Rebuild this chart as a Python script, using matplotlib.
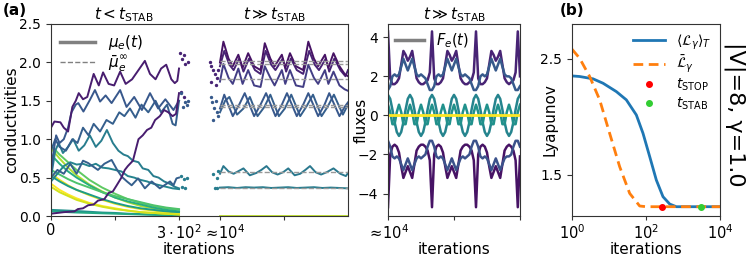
import matplotlib
matplotlib.use('Agg')
import matplotlib.pyplot as plt
from matplotlib.lines import Line2D
from matplotlib.transforms import ScaledTranslation

# ---------------- panel (a) left part: t < t_STAB (iterations 0..300) ----------------
p1_iter = [0, 8, 22, 30, 40, 50, 58, 65, 75, 85, 100, 112, 122, 135, 148, 162, 175, 190, 205, 220, 232, 245, 258, 270, 282, 290, 296, 300]
p1_cond = [1.15, 1.23, 1.22, 1.15, 1.1, 1.42, 1.5, 1.6, 1.52, 1.55, 1.85, 1.7, 1.87, 1.72, 1.7, 1.88, 1.72, 1.78, 1.9, 2.02, 1.85, 1.78, 1.92, 1.97, 1.78, 1.73, 1.76, 1.92]

p2_iter = [0, 30, 55, 63, 75, 87, 100, 110, 125, 135, 145, 154, 165, 173, 180, 192, 198, 205, 215, 225, 235, 244, 255, 265, 275, 285, 293, 300]
p2_cond = [0.03, 0.05, 0.06, 0.09, 0.1, 0.14, 0.15, 0.2, 0.22, 0.3, 0.32, 0.4, 0.5, 0.6, 0.65, 0.72, 0.85, 1.0, 1.05, 1.12, 1.15, 1.25, 1.3, 1.38, 1.35, 1.3, 1.33, 1.6]

b1_iter = [0, 5, 12, 20, 30, 40, 48, 58, 64, 76, 91, 103, 115, 128, 142, 162, 177, 195, 213, 232, 251, 268, 287, 300]
b1_cond = [0.55, 0.8, 1.05, 0.95, 1.0, 1.15, 1.35, 1.45, 1.47, 1.36, 1.51, 1.64, 1.49, 1.57, 1.47, 1.64, 1.42, 1.55, 1.38, 1.6, 1.4, 1.52, 1.38, 1.5]

b2_iter = [0, 10, 20, 35, 50, 62, 75, 88, 100, 115, 130, 145, 160, 172, 185, 198, 212, 228, 245, 258, 272, 285, 292, 300]
b2_cond = [0.85, 1.0, 0.9, 0.85, 1.0, 0.95, 1.15, 1.05, 1.2, 1.1, 1.25, 1.2, 1.35, 1.3, 1.4, 1.28, 1.45, 1.35, 1.5, 1.35, 1.45, 1.2, 1.18, 1.5]

b3_iter = [0, 15, 30, 45, 60, 75, 87, 110, 125, 142, 155, 166, 178, 189, 204, 220, 236, 255, 279, 287, 294, 300]
b3_cond = [0.5, 0.6, 0.55, 0.68, 0.55, 0.72, 0.69, 0.6, 0.68, 0.73, 0.6, 0.51, 0.45, 0.4, 0.49, 0.36, 0.45, 0.36, 0.45, 0.4, 0.49, 0.5]

t1_iter = [0, 10, 18, 28, 40, 52, 65, 78, 91, 105, 118, 131, 145, 158, 170, 180, 192, 205, 215, 228, 240, 252, 265, 278, 290, 300]
t1_cond = [0.5, 0.85, 0.95, 0.82, 0.9, 1.0, 0.85, 0.92, 1.05, 0.9, 0.98, 1.12, 0.95, 0.85, 0.8, 0.78, 0.72, 0.7, 0.62, 0.6, 0.52, 0.5, 0.45, 0.42, 0.38, 0.36]

t2_iter = [0, 15, 30, 45, 60, 75, 90, 105, 120, 135, 150, 165, 180, 195, 210, 225, 240, 255, 270, 285, 300]
t2_cond = [0.45, 0.55, 0.65, 0.7, 0.67, 0.68, 0.65, 0.68, 0.63, 0.62, 0.6, 0.58, 0.52, 0.5, 0.47, 0.45, 0.42, 0.4, 0.38, 0.36, 0.35]

# decaying edges (all sampled at the same iterations)
decay_iter = [0, 20, 40, 60, 90, 120, 150, 180, 210, 240, 270, 300]
d1_cond = [0.92, 0.8, 0.7, 0.6, 0.47, 0.37, 0.29, 0.22, 0.17, 0.13, 0.1, 0.08]
d2_cond = [0.88, 0.75, 0.63, 0.53, 0.41, 0.32, 0.24, 0.18, 0.13, 0.1, 0.07, 0.05]
d3_cond = [0.8, 0.68, 0.58, 0.5, 0.4, 0.31, 0.24, 0.19, 0.15, 0.11, 0.08, 0.06]
d4_cond = [0.6, 0.54, 0.48, 0.43, 0.37, 0.31, 0.26, 0.22, 0.18, 0.14, 0.11, 0.09]
d5_cond = [0.55, 0.47, 0.4, 0.34, 0.27, 0.21, 0.16, 0.12, 0.09, 0.07, 0.05, 0.04]
d6_cond = [0.52, 0.45, 0.39, 0.34, 0.28, 0.22, 0.17, 0.13, 0.1, 0.08, 0.06, 0.05]
d7_cond = [0.42, 0.34, 0.28, 0.23, 0.17, 0.13, 0.1, 0.07, 0.05, 0.04, 0.03, 0.02]
d8_cond = [0.38, 0.31, 0.26, 0.21, 0.16, 0.12, 0.09, 0.07, 0.05, 0.04, 0.03, 0.02]
d9_cond = [0.08, 0.075, 0.07, 0.065, 0.055, 0.045, 0.04, 0.03, 0.025, 0.02, 0.015, 0.01]
d10_cond = [0.06, 0.055, 0.05, 0.045, 0.04, 0.035, 0.03, 0.025, 0.02, 0.015, 0.01, 0.01]

# ---------------- panel (a) right part: t >> t_STAB (iterations after ~10^4) ----------------
r1_iter = [0, 8, 20, 30, 43, 53, 66, 80, 95, 105, 118, 128, 145, 153, 164, 178, 195, 207, 220, 230, 246, 254, 266, 280, 292, 300]
r1_cond = [2.0, 2.27, 2.05, 1.95, 2.1, 1.93, 2.12, 1.95, 1.9, 2.25, 2.05, 1.95, 2.1, 1.93, 2.12, 1.95, 1.9, 2.27, 2.05, 1.95, 2.1, 1.93, 2.12, 1.95, 1.85, 1.82]
r2_iter = [0, 10, 22, 32, 45, 55, 68, 82, 95, 107, 120, 130, 147, 155, 166, 180, 195, 209, 222, 232, 248, 256, 268, 282, 294, 300]
r2_cond = [1.95, 2.15, 1.97, 1.9, 2.05, 1.88, 2.05, 1.9, 1.85, 2.15, 1.97, 1.9, 2.05, 1.88, 2.05, 1.9, 1.85, 2.15, 1.97, 1.9, 2.05, 1.88, 2.05, 1.9, 1.82, 1.9]
r3_cond = [1.75, 1.98, 1.8, 1.72, 1.92, 1.72, 1.9, 1.7, 1.68, 1.95, 1.8, 1.7, 1.9, 1.72, 1.9, 1.7, 1.68, 1.97, 1.8, 1.72, 1.9, 1.72, 1.88, 1.7, 1.65, 1.63]
r4_iter = [0, 10, 30, 45, 58, 80, 95, 108, 130, 145, 157, 180, 195, 207, 230, 245, 256, 280, 292, 300]
r4_cond = [1.4, 1.58, 1.3, 1.45, 1.6, 1.3, 1.45, 1.6, 1.3, 1.45, 1.6, 1.3, 1.45, 1.6, 1.3, 1.45, 1.6, 1.3, 1.42, 1.48]
r5_iter = [0, 12, 22, 40, 55, 70, 88, 104, 118, 138, 152, 167, 188, 202, 218, 238, 252, 267, 288, 300]
r5_cond = [1.35, 1.5, 1.55, 1.32, 1.4, 1.55, 1.3, 1.42, 1.58, 1.3, 1.4, 1.58, 1.3, 1.42, 1.58, 1.3, 1.42, 1.58, 1.32, 1.45]
r6_iter = [0, 8, 20, 32, 42, 55, 70, 85, 97, 109, 122, 135, 148, 160, 175, 188, 200, 211, 224, 237, 250, 266, 282, 295, 300]
r6_cond = [0.55, 0.65, 0.58, 0.55, 0.58, 0.62, 0.53, 0.56, 0.6, 0.65, 0.57, 0.54, 0.57, 0.62, 0.53, 0.55, 0.6, 0.65, 0.57, 0.54, 0.57, 0.62, 0.55, 0.52, 0.56]
r7_iter = [0, 20, 40, 60, 80, 100, 120, 140, 160, 180, 200, 220, 240, 260, 280, 300]
r7_cond = [0.37, 0.375, 0.365, 0.375, 0.37, 0.375, 0.365, 0.37, 0.375, 0.365, 0.37, 0.375, 0.365, 0.37, 0.365, 0.36]
zero_iter = [0, 300]
zero_cond = [0.0, 0.0]

# time-averaged conductivities (dashed)
mean_cond = [2.02, 1.98, 1.79, 1.45, 1.42, 0.57, 0.37]

# sparse samples drawn in the gap between the two parts
gap_purple_iter = [303, 307, 311, 315, 320, 305, 312, 372, 375, 380, 384, 388, 392, 376, 386]
gap_purple_cond = [2.12, 2.05, 2.1, 1.98, 2.0, 1.62, 1.55, 2.0, 1.95, 1.9, 1.85, 1.8, 1.9, 1.75, 1.7]
gap_blue_iter = [304, 309, 314, 318, 322, 374, 378, 383, 388, 392, 380, 386]
gap_blue_cond = [1.6, 1.42, 1.48, 1.45, 1.5, 1.55, 1.48, 1.4, 1.35, 1.3, 1.25, 1.5]
gap_teal_iter = [305, 312, 318, 306, 314, 380, 388, 392, 384, 390]
gap_teal_cond = [0.52, 0.48, 0.5, 0.38, 0.36, 0.55, 0.5, 0.58, 0.37, 0.37]

# ---------------- fluxes (t >> t_STAB) ----------------
flux_iter = list(range(0, 301, 5))
f_dp_up = [4.3, 1.9, 1.6, 1.6, 1.7, 1.9, 2.6, 3.3, 3.1, 2.8, 3.0, 3.3, 2.6, 1.9, 1.7, 1.6, 1.6, 1.7, 1.8, 2.2,
           4.3, 1.9, 1.6, 1.6, 1.7, 1.9, 2.6, 3.3, 3.1, 2.8, 3.0, 3.3, 2.6, 1.9, 1.7, 1.6, 1.6, 1.7, 1.8, 2.2,
           4.3, 1.9, 1.6, 1.6, 1.7, 1.9, 2.6, 3.3, 3.1, 2.8, 3.0, 3.3, 2.6, 1.9, 1.7, 1.6, 1.7, 1.8, 2.2,
           4.3, 2.0]
f_dp_dn = [-4.7, -2.0, -1.6, -1.5, -1.6, -1.9, -2.6, -3.2, -2.9, -2.6, -2.9, -3.2, -2.5, -1.8, -1.6, -1.5, -1.5, -1.6, -1.8, -2.3,
           -4.7, -2.0, -1.6, -1.5, -1.6, -1.9, -2.6, -3.2, -2.9, -2.6, -2.9, -3.2, -2.5, -1.8, -1.6, -1.5, -1.5, -1.6, -1.8, -2.3,
           -4.7, -2.0, -1.6, -1.5, -1.6, -1.9, -2.6, -3.2, -2.9, -2.6, -2.9, -3.2, -2.5, -1.8, -1.6, -1.5, -1.6, -1.8, -2.3,
           -4.7, -2.1]
f_b_up = [1.3, 1.5, 2.0, 2.1, 2.0, 2.1, 2.5, 2.9, 2.6, 2.3, 2.6, 2.9, 2.5, 2.1, 2.0, 2.1, 2.0, 1.9, 1.6, 1.3,
          1.3, 1.5, 2.0, 2.1, 2.0, 2.1, 2.5, 2.9, 2.6, 2.3, 2.6, 2.9, 2.5, 2.1, 2.0, 2.1, 2.0, 1.9, 1.6, 1.3,
          1.3, 1.5, 2.0, 2.1, 2.0, 2.1, 2.5, 2.9, 2.6, 2.3, 2.6, 2.9, 2.5, 2.1, 2.0, 2.0, 1.9, 1.6, 1.3,
          1.3, 1.5]
f_b_dn = [-1.3, -1.6, -2.1, -2.2, -2.1, -2.2, -2.5, -2.8, -2.5, -2.2, -2.5, -2.8, -2.5, -2.2, -2.1, -2.2, -2.1, -2.0, -1.6, -1.3,
          -1.3, -1.6, -2.1, -2.2, -2.1, -2.2, -2.5, -2.8, -2.5, -2.2, -2.5, -2.8, -2.5, -2.2, -2.1, -2.2, -2.1, -2.0, -1.6, -1.3,
          -1.3, -1.6, -2.1, -2.2, -2.1, -2.2, -2.5, -2.8, -2.5, -2.2, -2.5, -2.8, -2.5, -2.2, -2.1, -2.1, -2.0, -1.6, -1.3,
          -1.3, -1.6]
f_teal = [1.05, 0.85, 0.3, -0.35, -0.85, -1.05, -0.85, -0.35, 0.3, 0.85,
          1.05, 0.85, 0.3, -0.35, -0.85, -1.05, -0.85, -0.35, 0.3, 0.85,
          1.05, 0.85, 0.3, -0.35, -0.85, -1.05, -0.85, -0.35, 0.3, 0.85,
          1.05, 0.85, 0.3, -0.35, -0.85, -1.05, -0.85, -0.35, 0.3, 0.85,
          1.05, 0.85, 0.3, -0.35, -0.85, -1.05, -0.85, -0.35, 0.3, 0.85,
          1.05, 0.85, 0.3, -0.35, -0.85, -1.05, -0.85, -0.35, 0.3, 0.85,
          1.05]
f_teal2 = [0.55, 0.17, -0.45, -0.45, 0.17, 0.55, 0.17, -0.45, -0.45, 0.17,
           0.55, 0.17, -0.45, -0.45, 0.17, 0.55, 0.17, -0.45, -0.45, 0.17,
           0.55, 0.17, -0.45, -0.45, 0.17, 0.55, 0.17, -0.45, -0.45, 0.17,
           0.55, 0.17, -0.45, -0.45, 0.17, 0.55, 0.17, -0.45, -0.45, 0.17,
           0.55, 0.17, -0.45, -0.45, 0.17, 0.55, 0.17, -0.45, -0.45, 0.17,
           0.55, 0.17, -0.45, -0.45, 0.17, 0.55, 0.17, -0.45, -0.45, 0.17,
           0.55]
f_zero = [0.0] * len(flux_iter)

# ---------------- panel (b) Lyapunov ----------------
lyap_iter = [1, 1.6, 3.7, 6.9, 15.8, 29.4, 54.8, 83, 126, 190, 288, 437, 661, 10000]
lyap_avg = [2.353, 2.348, 2.328, 2.29, 2.218, 2.147, 2.017, 1.859, 1.658, 1.457, 1.313, 1.25, 1.227, 1.227]
lyap_bar_iter = [1, 1.6, 3.0, 5.6, 10.4, 19.4, 36.2, 67.5, 102, 10000]
lyap_bar = [2.583, 2.506, 2.348, 2.147, 1.859, 1.572, 1.342, 1.233, 1.227, 1.227]
t_stop = 267
t_stab = 3000
lyap_final = 1.227

# ---------------- figure ----------------
plt.rcParams['font.size'] = 10.5
plt.rcParams['ytick.labelsize'] = 10
plt.rcParams['axes.edgecolor'] = '#333333'
plt.rcParams['xtick.color'] = '#333333'
plt.rcParams['ytick.color'] = '#333333'
plt.rcParams['xtick.labelcolor'] = 'black'
plt.rcParams['ytick.labelcolor'] = 'black'
plt.rcParams['xtick.major.pad'] = 2
plt.rcParams['xtick.major.size'] = 3
cm = plt.get_cmap('viridis')
shift = 396  # where the ~10^4 window starts on the conductivity axis
lw = 1.4

fig = plt.figure(figsize=(7.48, 2.58), dpi=100)
ax = fig.add_axes([51 / 748, 42 / 258, 297 / 748, 192 / 258])
axf = fig.add_axes([388 / 748, 42 / 258, 132 / 748, 192 / 258])
axb = fig.add_axes([572 / 748, 42 / 258, 148 / 748, 192 / 258])

# decays first so the rising ones sit on top
for yy, c in [(d9_cond, 0.5), (d10_cond, 0.6), (d1_cond, 0.75), (d2_cond, 0.88), (d3_cond, 0.62),
              (d4_cond, 0.72), (d5_cond, 0.97), (d6_cond, 0.55), (d7_cond, 1.0), (d8_cond, 0.93)]:
    ax.plot(decay_iter, yy, color=cm(c), lw=lw)
ax.plot(t2_iter, t2_cond, color=cm(0.45), lw=lw)
ax.plot(t1_iter, t1_cond, color=cm(0.42), lw=lw)
ax.plot(b3_iter, b3_cond, color=cm(0.3), lw=lw)
ax.plot(b2_iter, b2_cond, color=cm(0.3), lw=lw)
ax.plot(b1_iter, b1_cond, color=cm(0.27), lw=lw)
ax.plot(p2_iter, p2_cond, color=cm(0.08), lw=lw)
ax.plot(p1_iter, p1_cond, color=cm(0.08), lw=lw)

ax.scatter(gap_purple_iter, gap_purple_cond, s=2, color=cm(0.1), zorder=3)
ax.scatter(gap_blue_iter, gap_blue_cond, s=2, color=cm(0.28), zorder=3)
ax.scatter(gap_teal_iter, gap_teal_cond, s=2, color=cm(0.42), zorder=3)

for m in mean_cond:
    ax.plot([shift, shift + 300], [m, m], color='#999999', lw=1, ls='--', zorder=3)
ax.plot([shift + x for x in zero_iter], zero_cond, color=cm(0.9), lw=2)
ax.plot([shift + x for x in r7_iter], r7_cond, color=cm(0.42), lw=lw)
ax.plot([shift + x for x in r6_iter], r6_cond, color=cm(0.4), lw=lw)
ax.plot([shift + x for x in r5_iter], r5_cond, color=cm(0.3), lw=lw)
ax.plot([shift + x for x in r4_iter], r4_cond, color=cm(0.27), lw=lw)
ax.plot([shift + x for x in r1_iter], r3_cond, color=cm(0.18), lw=lw)
ax.plot([shift + x for x in r2_iter], r2_cond, color=cm(0.1), lw=lw)
ax.plot([shift + x for x in r1_iter], r1_cond, color=cm(0.05), lw=lw)

ax.set_xlim(0, shift + 300)
ax.set_ylim(0, 2.5)
ax.set_xticks([0, 150, 300, shift, shift + 150])
ax.set_xticklabels(['0', '', r'$3\cdot10^2$', r'$\approx\!10^4$', ''])
lab = ax.get_xticklabels()[3]
lab.set_transform(lab.get_transform() + ScaledTranslation(0.04, 0, fig.dpi_scale_trans))
ax.set_yticks([0, 0.5, 1.0, 1.5, 2.0, 2.5])
ax.set_xlabel('iterations', fontsize=11, labelpad=0)
ax.set_ylabel('conductivities', fontsize=11)
ax.yaxis.set_label_coords(-0.107, 0.5)
ax.text(170, 1.0, r'$t < t_{\rm STAB}$', transform=ax.get_xaxis_transform(), ha='center', va='bottom', fontsize=11)
ax.text(523, 1.0, r'$t \gg t_{\rm STAB}$', transform=ax.get_xaxis_transform(), ha='center', va='bottom', fontsize=11)
ax.legend([Line2D([], [], color='grey', lw=2.5), Line2D([], [], color='grey', lw=1, ls='--')],
          [r'$\mu_e(t)$', r'$\bar{\mu}_e^{\infty}$'], loc='upper left', frameon=False,
          fontsize=11, handlelength=2.3, borderaxespad=0.2, labelspacing=0.1)

# fluxes
for yy, c in [(f_dp_dn, 0.05), (f_dp_up, 0.1), (f_b_dn, 0.25), (f_b_up, 0.28), (f_teal, 0.45), (f_teal2, 0.5)]:
    axf.plot(flux_iter, yy, color=cm(c), lw=1.8)
axf.plot(flux_iter, f_zero, color=cm(1.0), lw=2)
axf.set_xlim(0, 300)
axf.set_ylim(-5.15, 4.68)
axf.set_xticks([0, 150, 300])
axf.set_xticklabels([r'$\approx\!10^4$', '', ''])
axf.set_yticks([-4, -2, 0, 2, 4])
axf.set_xlabel('iterations', fontsize=11, labelpad=0)
axf.set_ylabel('fluxes', fontsize=11)
axf.yaxis.set_label_coords(-0.15, 0.5)
axf.set_title(r'$t \gg t_{\rm STAB}$', fontsize=11, pad=1)
axf.legend([Line2D([], [], color='grey', lw=2.5)], [r'$F_e(t)$'], loc='upper left', frameon=False,
           fontsize=10.5, handlelength=2.0, borderaxespad=0.1)

# lyapunov
axb.plot(lyap_iter, lyap_avg, color='C0', lw=2, label=r'$\langle \mathcal{L}_\gamma \rangle_T$')
axb.plot(lyap_bar_iter, lyap_bar, color='C1', lw=2, ls=(0, (3.5, 2)), label=r'$\bar{\mathcal{L}}_\gamma$')
axb.plot([t_stop], [lyap_final], 'o', color='red', ms=4, label=r'$t_{\rm STOP}$', zorder=4)
axb.plot([t_stab], [lyap_final], 'o', color='limegreen', ms=4, label=r'$t_{\rm STAB}$', zorder=4)
axb.set_xscale('log')
axb.set_xlim(1, 10000)
axb.set_ylim(1.147, 2.80)
axb.set_xticks([1, 100, 10000])
axb.minorticks_off()
axb.set_yticks([1.5, 2.5])
axb.set_xlabel('iterations', fontsize=11, labelpad=0)
axb.set_ylabel('Lyapunov', fontsize=11)
axb.yaxis.set_label_coords(-0.10, 0.5)
axb.legend(loc='upper right', frameon=False, fontsize=10, handlelength=2.3, labelspacing=0.15,
           borderaxespad=0.2)

fig.text(0.004, 0.99, '(a)', fontweight='bold', fontsize=11, va='top')
fig.text(0.748, 0.99, '(b)', fontweight='bold', fontsize=11, va='top')
fig.text(0.982, 0.555, '|V|=8, γ=1.0', rotation=-90, fontsize=16, va='center', ha='center')

fig.savefig('out.png', dpi=100)
